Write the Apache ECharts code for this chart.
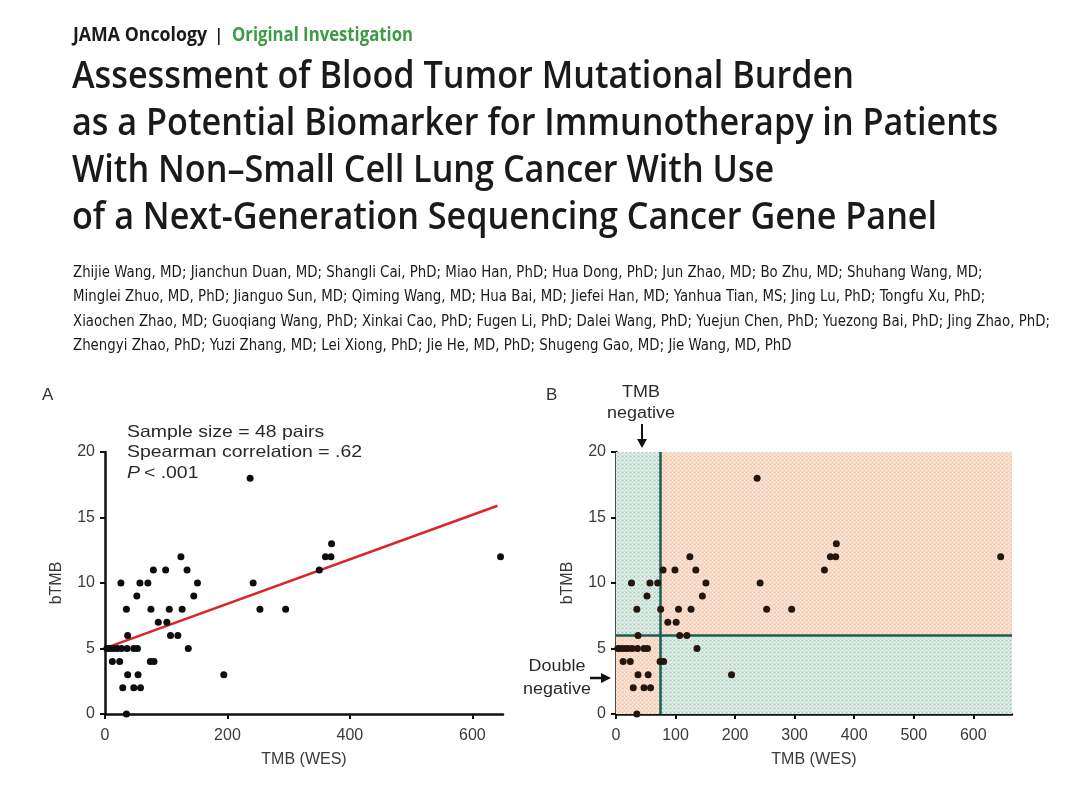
<!DOCTYPE html>
<html>
<head>
<meta charset="utf-8">
<script src="https://cdn.jsdelivr.net/npm/echarts@6/dist/echarts.min.js"></script>
<style>
html,body{margin:0;padding:0;background:#fff;}
#chart{width:1080px;height:794px;}
</style>
</head>
<body>
<div id="chart"></div>
<script>
// ---- Data ----
// 48 paired samples: tissue TMB by whole-exome sequencing vs. blood TMB
const tmbWES = [237, 370, 360, 369, 646, 124, 350, 79, 99, 134,
                26, 57, 70, 151, 242, 52, 145, 35, 75, 105,
                126, 253, 295, 87, 101, 37, 107, 119, 136, 194,
                37, 54, 29, 47, 58, 35, 12, 24, 74, 80,
                3, 8, 14, 20, 27, 36, 47, 53];
const bTMB   = [18, 13, 12, 12, 12, 12, 11, 11, 11, 11,
                10, 10, 10, 10, 10, 9, 9, 8, 8, 8,
                8, 8, 8, 7, 7, 6, 6, 6, 5, 3,
                3, 3, 2, 2, 2, 0, 4, 4, 4, 4,
                5, 5, 5, 5, 5, 5, 5, 5];
// fitted regression line endpoints (panel A)
const fitLine = [[5, 5.1], [641, 15.9]];
// cutoffs (panel B)
const tmbCut = 75;
const btmbCut = 6;
// axis ranges / ticks
const xMaxA = 650, xMaxB = 665, yMax = 20;
const xTicksA = [0, 200, 400, 600];
const xTicksB = [0, 100, 200, 300, 400, 500, 600];
const yTicks = [0, 5, 10, 15, 20];

const titleLines = [
  'Assessment of Blood Tumor Mutational Burden',
  'as a Potential Biomarker for Immunotherapy in Patients',
  'With Non\u2013Small Cell Lung Cancer With Use',
  'of a Next-Generation Sequencing Cancer Gene Panel'
];
const authorLines = [
  'Zhijie Wang, MD; Jianchun Duan, MD; Shangli Cai, PhD; Miao Han, PhD; Hua Dong, PhD; Jun Zhao, MD; Bo Zhu, MD; Shuhang Wang, MD;',
  'Minglei Zhuo, MD, PhD; Jianguo Sun, MD; Qiming Wang, MD; Hua Bai, MD; Jiefei Han, MD; Yanhua Tian, MS; Jing Lu, PhD; Tongfu Xu, PhD;',
  'Xiaochen Zhao, MD; Guoqiang Wang, PhD; Xinkai Cao, PhD; Fugen Li, PhD; Dalei Wang, PhD; Yuejun Chen, PhD; Yuezong Bai, PhD; Jing Zhao, PhD;',
  'Zhengyi Zhao, PhD; Yuzi Zhang, MD; Lei Xiong, PhD; Jie He, MD, PhD; Shugeng Gao, MD; Jie Wang, MD, PhD'
];

const pairs = tmbWES.map((v, i) => [v, bTMB[i]]);

// ---- helpers ----
const measureCtx = document.createElement('canvas').getContext('2d');
function widthOf(text, weight, size, family) {
  measureCtx.font = weight + ' ' + size + 'px ' + family;
  return measureCtx.measureText(text).width;
}
// horizontal squeeze/stretch so a text spans the width seen in the reference
function fitScale(text, weight, size, family, target) {
  return target / widthOf(text, weight, size, family);
}

function makePattern(base, light, dark) {
  const c = document.createElement('canvas');
  c.width = 4; c.height = 4;
  const g = c.getContext('2d');
  g.fillStyle = base; g.fillRect(0, 0, 4, 4);
  g.fillStyle = light;
  g.fillRect(0, 0, 1, 1); g.fillRect(2, 2, 1, 1);
  g.fillStyle = dark;
  g.fillRect(2, 0, 1, 1);
  return { image: c, repeat: 'repeat' };
}
const greenFill = makePattern('#cfe4da', 'rgba(255,255,255,0.8)', 'rgba(90,110,100,0.35)');
const orangeFill = makePattern('#f6d8c4', 'rgba(255,255,255,0.7)', 'rgba(230,180,150,0.5)');

const SANS = '"Liberation Sans", Arial, sans-serif';
const HEAD = '"Open Sans", sans-serif';
const BODY = '"DejaVu Sans Condensed", sans-serif';

function axisCommon() {
  return {
    axisLine: { show: true, onZero: false, lineStyle: { color: '#111', width: 2.5 } },
    axisTick: { show: true, length: 5, lineStyle: { color: '#111', width: 2 } },
    axisLabel: { color: '#3a3a3a', fontSize: 16, fontFamily: SANS },
    splitLine: { show: false },
    nameTextStyle: { color: '#3a3a3a', fontSize: 16, fontFamily: SANS },
    nameLocation: 'middle'
  };
}

const graphics = [];
function addText(text, x, y, opt) {
  const o = Object.assign({ weight: 'normal', size: 16, family: SANS, fill: '#2a2a2a', align: 'left', target: null, italic: false }, opt || {});
  const sx = o.target ? fitScale(text, o.weight, o.size, o.family, o.target) : (o.scaleX || 1);
  graphics.push({ type: 'text', x: x, y: y, scaleX: sx, silent: true,
    style: { text: text, fontFamily: o.family, fontWeight: o.weight, fontSize: o.size, fill: o.fill,
      fontStyle: o.italic ? 'italic' : 'normal', align: o.align, verticalAlign: 'middle' } });
}

// header
addText('JAMA Oncology', 73, 36, { weight: 'bold', size: 19, family: HEAD, fill: '#1a1a1a', target: 134 });
graphics.push({ type: 'rect', shape: { x: 218, y: 28, width: 1.6, height: 17 }, style: { fill: '#1a1a1a' }, silent: true });
addText('Original Investigation', 232, 36, { weight: 'bold', size: 19, family: HEAD, fill: '#3d9b45', target: 181 });
// title
const titleScale = fitScale(titleLines[0], '600', 38, HEAD, 782);
titleLines.forEach((t, i) => addText(t, 72, 77 + i * 47, { weight: '600', size: 38, family: HEAD, fill: '#1a1a1a', scaleX: titleScale }));
// authors
const authorScale = fitScale(authorLines[2], 'normal', 15, BODY, 977);
authorLines.forEach((t, i) => addText(t, 73, 273 + i * 24.5, { size: 15, family: BODY, fill: '#1a1a1a', scaleX: authorScale }));

// panel labels & annotations
addText('A', 42, 395, { size: 17, fill: '#333' });
addText('B', 546, 395, { size: 17, fill: '#333' });
const annScale = fitScale('Spearman correlation = .62', 'normal', 16.5, SANS, 235);
addText('Sample size = 48 pairs', 127, 432, { size: 16.5, scaleX: annScale });
addText('Spearman correlation = .62', 127, 452, { size: 16.5, scaleX: annScale });
graphics.push({ type: 'text', x: 127, y: 473, scaleX: annScale, silent: true,
  style: { text: '{i|P} {n|< .001}', verticalAlign: 'middle',
    rich: { i: { fontStyle: 'italic', fontFamily: SANS, fontSize: 16.5, fill: '#2a2a2a' },
            n: { fontFamily: SANS, fontSize: 16.5, fill: '#2a2a2a' } } } });

const lblScale = 1.12;
addText('TMB', 641, 393, { align: 'center', scaleX: lblScale });
addText('negative', 641, 414, { align: 'center', scaleX: lblScale });
graphics.push({ type: 'line', shape: { x1: 642, y1: 424, x2: 642, y2: 441 }, style: { stroke: '#111', lineWidth: 2 }, silent: true });
graphics.push({ type: 'polygon', shape: { points: [[637, 439], [647, 439], [642, 448]] }, style: { fill: '#111' }, silent: true });

addText('Double', 1002, 467, { align: 'right', scaleX: lblScale });
addText('positive', 1002, 490, { align: 'right', scaleX: lblScale });
addText('bTMB', 1000, 664, { align: 'right', fill: '#4a4a4a', scaleX: lblScale });
addText('negative', 1000, 687, { align: 'right', fill: '#4a4a4a', scaleX: lblScale });

addText('Double', 557, 667, { align: 'center', scaleX: lblScale });
addText('negative', 557, 690, { align: 'center', scaleX: lblScale });
graphics.push({ type: 'line', shape: { x1: 590, y1: 678, x2: 603, y2: 678 }, style: { stroke: '#111', lineWidth: 2.5 }, silent: true });
graphics.push({ type: 'polygon', shape: { points: [[601, 673], [601, 683], [611, 678]] }, style: { fill: '#111' }, silent: true });

function xAxisFor(grid, max, ticks) {
  const c = axisCommon();
  return Object.assign(c, { type: 'value', gridIndex: grid, min: 0, max: max, name: 'TMB (WES)', nameGap: 38,
    axisLabel: Object.assign(c.axisLabel, { margin: 14, customValues: ticks }),
    axisTick: Object.assign(c.axisTick, { customValues: ticks }) });
}
function yAxisFor(grid) {
  const c = axisCommon();
  return Object.assign(c, { type: 'value', gridIndex: grid, min: 0, max: yMax, name: 'bTMB', nameGap: 40,
    axisLabel: Object.assign(c.axisLabel, { margin: 10, customValues: yTicks }),
    axisTick: Object.assign(c.axisTick, { customValues: yTicks }) });
}

const option = {
  animation: false,
  backgroundColor: '#fff',
  grid: [
    { left: 105, top: 452, width: 398, height: 262, containLabel: false },
    { left: 616, top: 452, width: 396, height: 262, containLabel: false }
  ],
  xAxis: [xAxisFor(0, xMaxA, xTicksA), xAxisFor(1, xMaxB, xTicksB)],
  yAxis: [yAxisFor(0), yAxisFor(1)],
  series: [
    { type: 'line', xAxisIndex: 0, yAxisIndex: 0, data: fitLine, showSymbol: false, symbol: 'none',
      lineStyle: { color: '#d8262b', width: 2.5 }, z: 2 },
    { type: 'scatter', xAxisIndex: 0, yAxisIndex: 0, data: pairs, symbolSize: 7,
      itemStyle: { color: '#0d0d0d', opacity: 1 }, z: 3 },
    { type: 'scatter', xAxisIndex: 1, yAxisIndex: 1, data: [], z: 1, silent: true,
      markArea: { silent: true, itemStyle: { opacity: 1 },
        data: [
          [{ coord: [0, btmbCut], itemStyle: { color: greenFill } }, { coord: [tmbCut, yMax] }],
          [{ coord: [tmbCut, 0], itemStyle: { color: greenFill } }, { coord: [xMaxB, btmbCut] }],
          [{ coord: [tmbCut, btmbCut], itemStyle: { color: orangeFill } }, { coord: [xMaxB, yMax] }],
          [{ coord: [0, 0], itemStyle: { color: orangeFill } }, { coord: [tmbCut, btmbCut] }]
        ] },
      markLine: { silent: true, symbol: 'none', label: { show: false },
        lineStyle: { color: '#1d5d58', width: 2.5, type: 'solid' },
        data: [
          [{ coord: [tmbCut, 0] }, { coord: [tmbCut, yMax] }],
          [{ coord: [0, btmbCut] }, { coord: [xMaxB, btmbCut] }]
        ] } },
    { type: 'scatter', xAxisIndex: 1, yAxisIndex: 1, data: pairs, symbolSize: 7,
      itemStyle: { color: '#24160d', opacity: 1 }, z: 5 }
  ],
  graphic: graphics
};

const chart = echarts.init(document.getElementById('chart'), null, { renderer: 'canvas' });
chart.setOption(option);
</script>
</body>
</html>
